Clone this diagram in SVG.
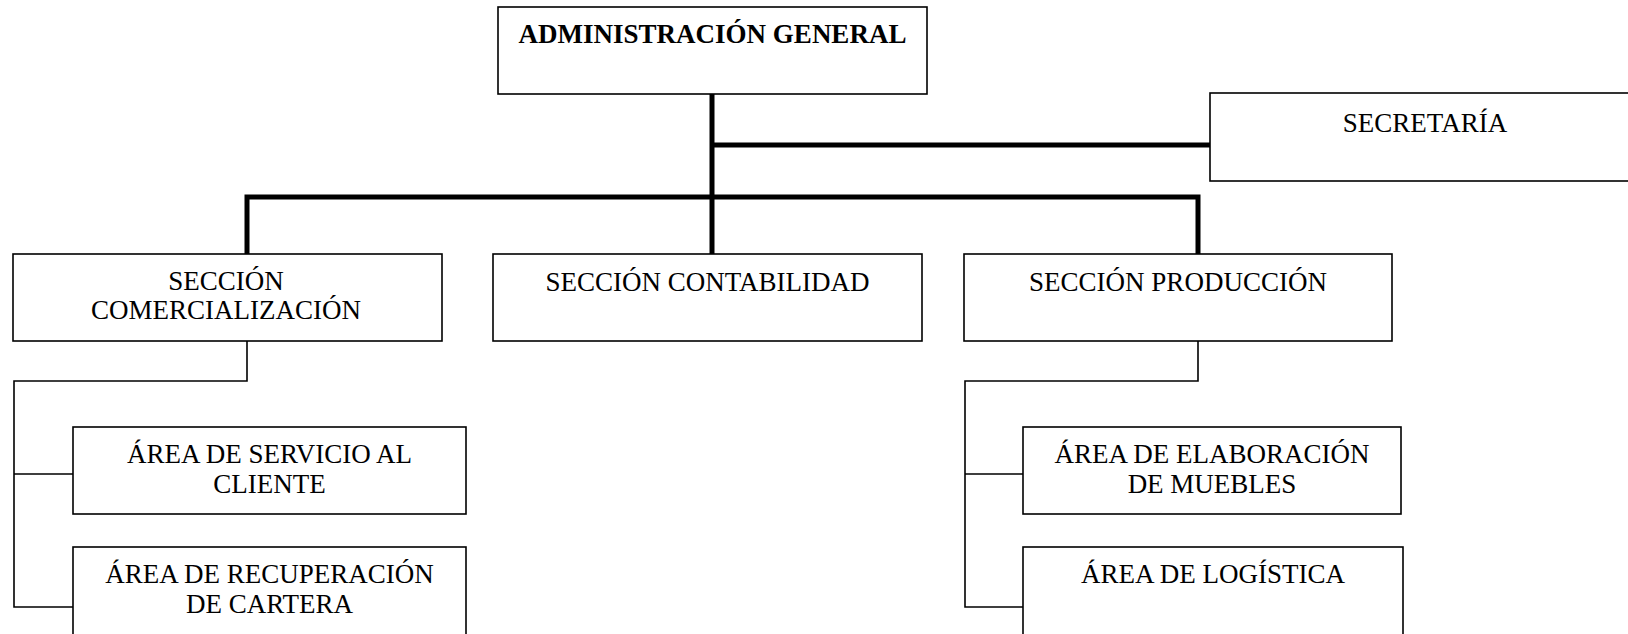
<svg xmlns="http://www.w3.org/2000/svg" width="1628" height="634" viewBox="0 0 1628 634">
<style>
.box{fill:#fff;stroke:#000;stroke-width:1.6}
.t{font-family:"Liberation Serif","Times New Roman",serif;font-size:27px;fill:#000;text-anchor:middle}
.b{font-weight:bold}
.thick{stroke:#000;stroke-width:5;fill:none}
.thin{stroke:#000;stroke-width:1.6;fill:none}
</style>
<rect width="1628" height="634" fill="#fff"/>
<g id="connectors">
<line class="thick" x1="712" y1="94" x2="712" y2="254"/>
<line class="thick" x1="712" y1="145" x2="1210" y2="145"/>
<path class="thick" d="M247,254 V197 H1198 V254"/>
<path class="thin" d="M247,341 V381 H14 V607 H73 M14,474 H73"/>
<path class="thin" d="M1198,341 V381 H965 V607 H1023 M965,474 H1023"/>
</g>
<g id="admin">
<rect class="box" x="498" y="7" width="429" height="87"/>
<text class="t b" x="712.5" y="43">ADMINISTRACIÓN GENERAL</text>
</g>
<g id="secretaria">
<rect class="box" x="1210" y="93" width="420" height="88"/>
<text class="t" x="1425" y="132">SECRETARÍA</text>
</g>
<g id="comercializacion">
<rect class="box" x="13" y="254" width="429" height="87"/>
<text class="t" x="226" y="290">SECCIÓN</text>
<text class="t" x="226" y="319">COMERCIALIZACIÓN</text>
</g>
<g id="contabilidad">
<rect class="box" x="493" y="254" width="429" height="87"/>
<text class="t" x="707.5" y="291">SECCIÓN CONTABILIDAD</text>
</g>
<g id="produccion">
<rect class="box" x="964" y="254" width="428" height="87"/>
<text class="t" x="1178" y="291">SECCIÓN PRODUCCIÓN</text>
</g>
<g id="servicio">
<rect class="box" x="73" y="427" width="393" height="87"/>
<text class="t" x="269.5" y="463">ÁREA DE SERVICIO AL</text>
<text class="t" x="269.5" y="493">CLIENTE</text>
</g>
<g id="recuperacion">
<rect class="box" x="73" y="547" width="393" height="88"/>
<text class="t" x="269.5" y="583">ÁREA DE RECUPERACIÓN</text>
<text class="t" x="269.5" y="613">DE CARTERA</text>
</g>
<g id="elaboracion">
<rect class="box" x="1023" y="427" width="378" height="87"/>
<text class="t" x="1212" y="463">ÁREA DE ELABORACIÓN</text>
<text class="t" x="1212" y="493">DE MUEBLES</text>
</g>
<g id="logistica">
<rect class="box" x="1023" y="547" width="380" height="88"/>
<text class="t" x="1213" y="583">ÁREA DE LOGÍSTICA</text>
</g>
</svg>
